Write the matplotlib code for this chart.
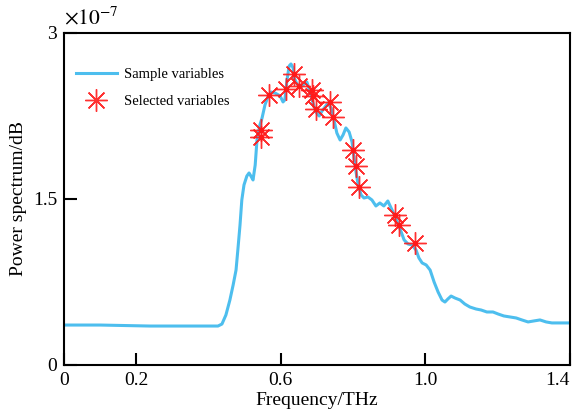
import matplotlib.pyplot as plt
import numpy as np

plt.rcParams['font.family'] = ['Liberation Serif', 'DejaVu Serif']
plt.rcParams['mathtext.fontset'] = 'stix'

# spectrum (x in THz, y in units of 1e-7)
freq = [0, 0.10, 0.238, 0.426, 0.437, 0.448, 0.459, 0.468, 0.476, 0.481, 0.487,
        0.492, 0.498, 0.506, 0.512, 0.517, 0.523, 0.529, 0.534, 0.542, 0.548,
        0.556, 0.564, 0.573, 0.584, 0.598, 0.606, 0.611, 0.617, 0.623, 0.628,
        0.634, 0.636, 0.642, 0.647, 0.656, 0.664, 0.672, 0.681, 0.689, 0.697,
        0.706, 0.714, 0.722, 0.730, 0.739, 0.747, 0.755, 0.764, 0.772, 0.780,
        0.789, 0.797, 0.805, 0.813, 0.822, 0.830, 0.841, 0.852, 0.863, 0.874,
        0.885, 0.896, 0.905, 0.913, 0.921, 0.930, 0.941, 0.952, 0.963, 0.974,
        0.982, 0.991, 1.002, 1.013, 1.024, 1.035, 1.046, 1.054, 1.062, 1.071,
        1.082, 1.096, 1.109, 1.123, 1.140, 1.154, 1.170, 1.187, 1.201, 1.217,
        1.234, 1.251, 1.267, 1.284, 1.300, 1.317, 1.334, 1.350, 1.372, 1.40]
power = [0.361, 0.361, 0.352, 0.352, 0.370, 0.452, 0.587, 0.723, 0.858, 1.039, 1.265,
         1.491, 1.627, 1.708, 1.735, 1.708, 1.672, 1.807, 2.033, 2.169, 2.232,
         2.349, 2.422, 2.467, 2.458, 2.431, 2.377, 2.395, 2.575, 2.702, 2.720,
         2.684, 2.602, 2.557, 2.530, 2.512, 2.539, 2.557, 2.467, 2.367, 2.286,
         2.250, 2.295, 2.331, 2.367, 2.322, 2.214, 2.096, 2.033, 2.078, 2.142,
         2.105, 2.015, 1.807, 1.645, 1.536, 1.509, 1.518, 1.491, 1.437, 1.464,
         1.437, 1.482, 1.419, 1.364, 1.301, 1.229, 1.130, 1.093, 1.084, 1.039,
         0.967, 0.922, 0.904, 0.858, 0.750, 0.660, 0.587, 0.569, 0.596, 0.623,
         0.605, 0.587, 0.551, 0.524, 0.506, 0.497, 0.479, 0.479, 0.461, 0.443,
         0.434, 0.425, 0.407, 0.389, 0.398, 0.407, 0.389, 0.380, 0.380, 0.380]

# selected variables
sel_f = [0.545, 0.545, 0.567, 0.614, 0.636, 0.650, 0.686, 0.689, 0.697,
         0.736, 0.744, 0.800, 0.808, 0.816, 0.916, 0.927, 0.971]
sel_p = [2.123, 2.060, 2.440, 2.494, 2.629, 2.521, 2.485, 2.431, 2.313,
         2.377, 2.241, 1.943, 1.798, 1.608, 1.355, 1.265, 1.102]

xticks = [0, 0.2, 0.6, 1.0, 1.4]
xlabels = ['0', '0.2', '0.6', '1.0', '1.4']
yticks = [0, 1.5, 3]
ylabels = ['0', '1.5', '3']

fig = plt.figure(figsize=(5.74, 4.15), dpi=100)
ax = fig.add_axes([0.1115, 0.1205, 0.8815, 0.80])

ax.plot(freq, power, color='#4DBEEE', lw=2.2, label='Sample variables')
ax.plot(sel_f, sel_p, ls='none', marker=(8, 2, 0), ms=16, mew=1.0,
        color='#FF1A1A', alpha=0.9, label='Selected variables')
ax.plot(sel_f, sel_p, ls='none', marker='o', ms=3, color='#FF1A1A')

ax.set_xlim(0, 1.4)
ax.set_ylim(0, 3)
ax.set_xticks(xticks)
ax.set_xticklabels(xlabels)
ax.set_yticks(yticks)
ax.set_yticklabels(ylabels)
ax.tick_params(direction='in', length=9, width=1.5, labelsize=14, pad=5)
ax.get_xticklabels()[-1].set_horizontalalignment('right')
for s in ax.spines.values():
    s.set_linewidth(1.5)

ax.set_xlabel('Frequency/THz', fontsize=14, labelpad=2)
ax.set_ylabel('Power spectrum/dB', fontsize=14, labelpad=4)
ax.text(0.0, 1.01, r'$\times10^{-7}$', transform=ax.transAxes, fontsize=15.5,
        ha='left', va='bottom')

ax.legend(loc='upper left', frameon=False, fontsize=10.5, handlelength=2.8,
          handletextpad=0.5, borderaxespad=0.6, labelspacing=1.0,
          bbox_to_anchor=(-0.005, 0.94))

fig.savefig('out.png', dpi=100)
